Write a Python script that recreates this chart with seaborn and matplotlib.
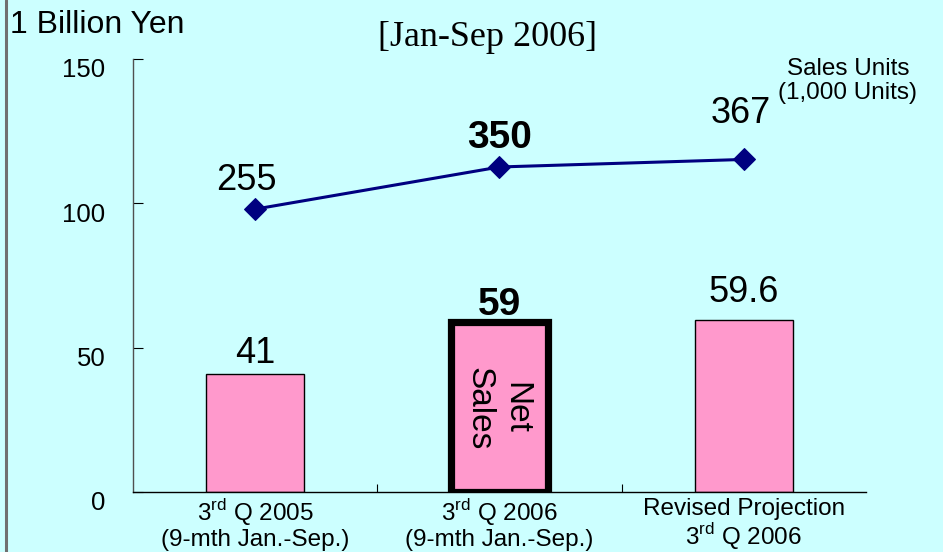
import matplotlib
matplotlib.use("Agg")
import matplotlib.pyplot as plt
import matplotlib.transforms as mtransforms
import seaborn as sns
import pandas as pd
from matplotlib.lines import Line2D

# data
categories = ["3$^{\\mathrm{rd}}$ Q 2005\n(9-mth Jan.-Sep.)",
              "3$^{\\mathrm{rd}}$ Q 2006\n(9-mth Jan.-Sep.)",
              "Revised Projection\n3$^{\\mathrm{rd}}$ Q 2006"]
net_sales = [41, 59, 59.6]
net_sales_labels = ["41", "59", "59.6"]
sales_units = [255, 350, 367]
units_labels = ["255", "350", "367"]
highlight = [False, True, False]

bg = "#CCFFFF"
pink = "#FF99CC"
navy = "#000080"

sns.set_style("white")
plt.rcParams["font.family"] = ["Liberation Sans", "DejaVu Sans"]
plt.rcParams["mathtext.fontset"] = "custom"
plt.rcParams["mathtext.rm"] = "Liberation Sans"
plt.rcParams["text.color"] = "black"
plt.rcParams["xtick.color"] = "black"
plt.rcParams["ytick.color"] = "black"
plt.rcParams["xtick.labelcolor"] = "black"
plt.rcParams["ytick.labelcolor"] = "black"

fig = plt.figure(figsize=(9.43, 5.52), dpi=100, facecolor=bg)
ax = fig.add_axes([133 / 943, 60 / 552, 733 / 943, 433 / 552])
ax.set_facecolor("none")

df = pd.DataFrame({"cat": categories, "sales": net_sales})
sns.barplot(data=df, x="cat", y="sales", color=pink, width=0.4,
            saturation=1, edgecolor="black", linewidth=1, ax=ax)
for patch, hl in zip(ax.patches, highlight):
    if hl:
        patch.set_linewidth(5.2)

ax.set_ylim(0, 150)
ax.set_xlim(-0.5, 2.5)
ax.set_yticks([0, 50, 100, 150])
ax.tick_params(axis="y", direction="in", length=7, pad=20, labelsize=18.5,
               left=True, width=0.8, color="black", labelcolor="black")
shift = mtransforms.ScaledTranslation(0, -9 / 100, fig.dpi_scale_trans)
for lab in ax.get_yticklabels():
    lab.set_transform(lab.get_transform() + shift)
ax.set_xticks([0.5, 1.5], minor=True)
ax.tick_params(axis="x", which="minor", direction="in", length=6, bottom=True,
               width=0.8, color="black")
ax.tick_params(axis="x", which="major", length=0, pad=4, labelsize=17.5,
               labelcolor="black")
for lab in ax.get_xticklabels():
    lab.set_linespacing(1.05)
ax.set_xlabel("")
ax.set_ylabel("")
for s in ["top", "right"]:
    ax.spines[s].set_visible(False)
ax.spines["left"].set_color("#505050")
ax.spines["bottom"].set_color("black")
for s in ["left", "bottom"]:
    ax.spines[s].set_linewidth(1.0)

# bar value labels
bar_offsets = [8, 5, 13]
for i, (v, lab, hl, off) in enumerate(zip(net_sales, net_sales_labels, highlight, bar_offsets)):
    ax.annotate(lab, (i, v), xytext=(0, off), textcoords="offset points",
                ha="center", va="baseline", fontsize=28 if hl else 26,
                fontweight="bold" if hl else "normal", color="black")

ax.text(0.99, 29, "Net\nSales", rotation=-90, ha="center", va="center",
        multialignment="center", fontsize=24, linespacing=1.25, color="black")

# secondary scale for sales units
ax2 = ax.twinx()
ax2.set_ylim(-382.6, 593.4)
sns.lineplot(x=[0, 1, 2], y=sales_units, ax=ax2, color=navy, linewidth=2.2,
             marker="D", markersize=11, markeredgecolor=navy)
ax2.set_axis_off()
offsets = [(-6, 14), (0, 14), (-2, 26)]
for i, (u, lab, off) in enumerate(zip(sales_units, units_labels, offsets)):
    ax2.annotate(lab, (i, u), xytext=off, textcoords="offset points",
                 ha="center", va="baseline", fontsize=28 if highlight[i] else 26,
                 fontweight="bold" if highlight[i] else "normal", color="black")

fig.text(10 / 943, 1 - 25 / 552, "1 Billion Yen", fontsize=23, va="center", ha="left")
fig.text(487 / 943, 1 - 38 / 552, "[Jan-Sep 2006]", fontsize=26, va="center",
         ha="center", family=["Liberation Serif", "DejaVu Serif"])
fig.text(848 / 943, 1 - 81 / 552, "Sales Units\n(1,000 Units)", fontsize=17.5,
         va="center", ha="center", linespacing=1.15)

# grey rule down the left edge of the slide
fig.add_artist(Line2D([5.5 / 943, 5.5 / 943], [0, 1], transform=fig.transFigure,
                      color="#707070", linewidth=2.2))

fig.savefig("out.png", dpi=100, facecolor=bg)
